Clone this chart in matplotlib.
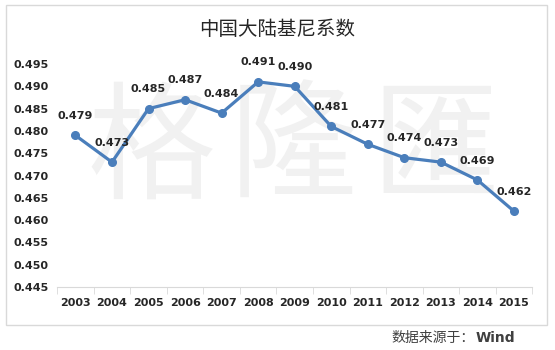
import matplotlib
matplotlib.use('Agg')
import matplotlib.pyplot as plt
from matplotlib.patches import Rectangle

# data
years = ['2003', '2004', '2005', '2006', '2007', '2008', '2009',
         '2010', '2011', '2012', '2013', '2014', '2015']
gini = [0.479, 0.473, 0.485, 0.487, 0.484, 0.491, 0.490,
        0.481, 0.477, 0.474, 0.473, 0.469, 0.462]
y_ticks = [0.445, 0.450, 0.455, 0.460, 0.465, 0.470, 0.475,
           0.480, 0.485, 0.490, 0.495]
watermark = ['格', '隆', '匯']

plt.rcParams['font.family'] = ['Noto Sans CJK SC', 'DejaVu Sans']

fig = plt.figure(figsize=(5.55, 3.5), dpi=100)
ax = fig.add_axes([0.103, 0.18, 0.856, 0.637])
ax.set_zorder(1)

# outer chart border
fig.patches.append(Rectangle((6 / 555, 1 - 325 / 350), 541 / 555, 320 / 350,
                             transform=fig.transFigure, fill=False,
                             edgecolor='#d9d9d9', linewidth=1))

# watermark, behind the plot
for i, ch in enumerate(watermark):
    fig.text(0.272 + i * 0.256, 0.565, ch, fontsize=92, color='#f1f1f1',
             ha='center', va='center', zorder=-1)

x = list(range(len(years)))
ax.plot(x, gini, color='#4a7ebb', linewidth=2.3, marker='o', markersize=5.5,
        zorder=3)

for xi, v in zip(x, gini):
    ax.annotate(f'{v:.3f}', (xi, v), xytext=(0, 14), textcoords='offset points',
                ha='center', va='center', fontsize=8, fontweight='bold',
                color='#262626', family='DejaVu Sans')

ax.set_xlim(-0.5, len(years) - 0.5)
ax.set_ylim(0.445, 0.495)
ax.set_yticks(y_ticks)
ax.set_yticklabels([f'{t:.3f}' for t in y_ticks])
ax.set_xticks(x)
ax.set_xticklabels(years)
ax.set_xticks([i - 0.5 for i in range(len(years) + 1)], minor=True)

for lab in ax.get_yticklabels() + ax.get_xticklabels():
    lab.set_fontweight('bold')
    lab.set_fontsize(8)
    lab.set_color('#262626')
    lab.set_family('DejaVu Sans')

ax.tick_params(axis='y', length=0, pad=6)
ax.tick_params(axis='x', which='major', length=0, pad=8)
ax.tick_params(axis='x', which='minor', length=5, color='#d9d9d9')

for s in ['top', 'right', 'left']:
    ax.spines[s].set_visible(False)
ax.spines['bottom'].set_color('#d9d9d9')
ax.patch.set_alpha(0)

fig.text(0.50, 0.915, '中国大陆基尼系数', fontsize=14, color='#262626',
         ha='center', va='center')

src = fig.text(0.706, 0.033, '数据来源于：', fontsize=10, color='#404040',
               ha='left', va='center')
ax.annotate('Wind', xy=(1, 0.5), xycoords=src, ha='left', va='center',
            fontsize=10, fontweight='bold', color='#404040',
            family='DejaVu Sans', annotation_clip=False)

fig.savefig('out.png', dpi=100)
